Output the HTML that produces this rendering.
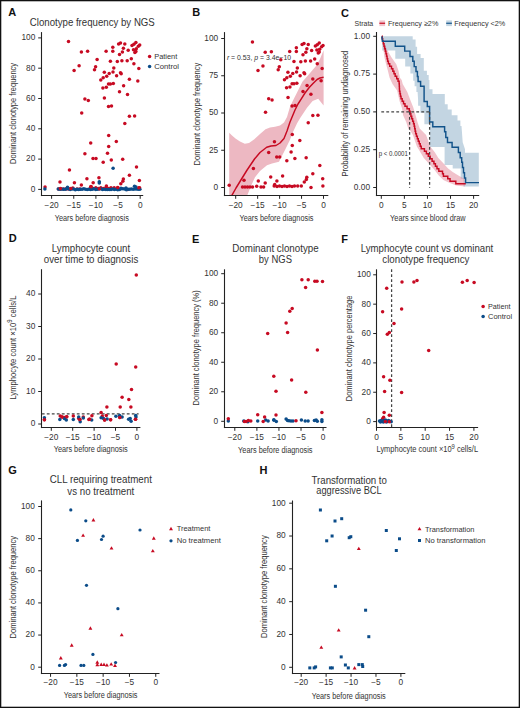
<!DOCTYPE html>
<html><head><meta charset="utf-8"><style>
html,body{margin:0;padding:0;background:#fff;}
svg{display:block;font-family:"Liberation Sans",sans-serif;}
</style></head><body>
<svg width="520" height="708" viewBox="0 0 520 708">
<rect x="0" y="0" width="520" height="708" fill="#fff"/>
<text x="8.3" y="15.7" font-size="11" fill="#111" font-weight="bold">A</text>
<text x="29.8" y="26" font-size="10.4" fill="#333333" textLength="125" lengthAdjust="spacingAndGlyphs">Clonotype frequency by NGS</text>
<line x1="41.5" y1="32.1" x2="41.5" y2="196.05" stroke="#222222" stroke-width="1.1"/>
<line x1="40.95" y1="195.5" x2="143.2" y2="195.5" stroke="#222222" stroke-width="1.1"/>
<line x1="38.2" y1="189.4" x2="41.5" y2="189.4" stroke="#222222" stroke-width="1"/>
<text x="35.3" y="191.75" font-size="8.3" fill="#333333" text-anchor="end">0</text>
<line x1="38.2" y1="159.1" x2="41.5" y2="159.1" stroke="#222222" stroke-width="1"/>
<text x="35.3" y="161.45" font-size="8.3" fill="#333333" text-anchor="end">20</text>
<line x1="38.2" y1="128.8" x2="41.5" y2="128.8" stroke="#222222" stroke-width="1"/>
<text x="35.3" y="131.15" font-size="8.3" fill="#333333" text-anchor="end">40</text>
<line x1="38.2" y1="98.5" x2="41.5" y2="98.5" stroke="#222222" stroke-width="1"/>
<text x="35.3" y="100.85" font-size="8.3" fill="#333333" text-anchor="end">60</text>
<line x1="38.2" y1="68.2" x2="41.5" y2="68.2" stroke="#222222" stroke-width="1"/>
<text x="35.3" y="70.55" font-size="8.3" fill="#333333" text-anchor="end">80</text>
<line x1="38.2" y1="37.9" x2="41.5" y2="37.9" stroke="#222222" stroke-width="1"/>
<text x="35.3" y="40.25" font-size="8.3" fill="#333333" text-anchor="end">100</text>
<line x1="51.6" y1="195.5" x2="51.6" y2="198.8" stroke="#222222" stroke-width="1"/>
<text x="51.6" y="207.8" font-size="8.3" fill="#333333" text-anchor="middle">−20</text>
<line x1="73.75" y1="195.5" x2="73.75" y2="198.8" stroke="#222222" stroke-width="1"/>
<text x="73.75" y="207.8" font-size="8.3" fill="#333333" text-anchor="middle">−15</text>
<line x1="95.9" y1="195.5" x2="95.9" y2="198.8" stroke="#222222" stroke-width="1"/>
<text x="95.9" y="207.8" font-size="8.3" fill="#333333" text-anchor="middle">−10</text>
<line x1="118.05" y1="195.5" x2="118.05" y2="198.8" stroke="#222222" stroke-width="1"/>
<text x="118.05" y="207.8" font-size="8.3" fill="#333333" text-anchor="middle">−5</text>
<line x1="140.2" y1="195.5" x2="140.2" y2="198.8" stroke="#222222" stroke-width="1"/>
<text x="140.2" y="207.8" font-size="8.3" fill="#333333" text-anchor="middle">0</text>
<text transform="translate(15.9,113.4) rotate(-90)" x="0" y="0" font-size="9.2" fill="#333333" text-anchor="middle" textLength="101" lengthAdjust="spacingAndGlyphs">Dominant clonotype frequency</text>
<text x="54.8" y="220.8" font-size="9.2" fill="#333333" textLength="74" lengthAdjust="spacingAndGlyphs">Years before diagnosis</text>
<g fill="#c70a22"><circle cx="68.5" cy="41.5" r="1.75"/><circle cx="81.4" cy="51.9" r="1.75"/><circle cx="87.6" cy="51.3" r="1.75"/><circle cx="97.1" cy="59.4" r="1.75"/><circle cx="79.1" cy="65.8" r="1.75"/><circle cx="74.1" cy="70.4" r="1.75"/><circle cx="95.6" cy="66.7" r="1.75"/><circle cx="94.5" cy="69.8" r="1.75"/><circle cx="118.6" cy="43.9" r="1.75"/><circle cx="120.5" cy="43" r="1.75"/><circle cx="124.8" cy="43.9" r="1.75"/><circle cx="132" cy="45.4" r="1.75"/><circle cx="133.9" cy="44.2" r="1.75"/><circle cx="135.9" cy="42.5" r="1.75"/><circle cx="139.7" cy="44.9" r="1.75"/><circle cx="138.3" cy="46.3" r="1.75"/><circle cx="112.8" cy="47.3" r="1.75"/><circle cx="123.4" cy="48.3" r="1.75"/><circle cx="106.1" cy="51.2" r="1.75"/><circle cx="112.8" cy="51.2" r="1.75"/><circle cx="128.2" cy="50.2" r="1.75"/><circle cx="133.5" cy="49.7" r="1.75"/><circle cx="136.3" cy="48.8" r="1.75"/><circle cx="122.4" cy="51.9" r="1.75"/><circle cx="134.9" cy="52.6" r="1.75"/><circle cx="135.9" cy="51.6" r="1.75"/><circle cx="119.5" cy="54.5" r="1.75"/><circle cx="110.4" cy="61.3" r="1.75"/><circle cx="117.3" cy="61.5" r="1.75"/><circle cx="121.9" cy="60.8" r="1.75"/><circle cx="127.2" cy="60.8" r="1.75"/><circle cx="131.3" cy="58.7" r="1.75"/><circle cx="133.9" cy="63.7" r="1.75"/><circle cx="113.8" cy="68" r="1.75"/><circle cx="138.8" cy="68.5" r="1.75"/><circle cx="104.3" cy="72.2" r="1.75"/><circle cx="109.2" cy="73.5" r="1.75"/><circle cx="113" cy="71.9" r="1.75"/><circle cx="120.5" cy="72.7" r="1.75"/><circle cx="121.2" cy="73.8" r="1.75"/><circle cx="116.6" cy="75.8" r="1.75"/><circle cx="106.7" cy="76.3" r="1.75"/><circle cx="103.2" cy="77.7" r="1.75"/><circle cx="100.8" cy="79.9" r="1.75"/><circle cx="129.4" cy="79.2" r="1.75"/><circle cx="137.8" cy="80.9" r="1.75"/><circle cx="108.5" cy="84" r="1.75"/><circle cx="110.4" cy="84" r="1.75"/><circle cx="113.3" cy="83.5" r="1.75"/><circle cx="106.3" cy="87.3" r="1.75"/><circle cx="102.9" cy="88.1" r="1.75"/><circle cx="123.6" cy="85.7" r="1.75"/><circle cx="119.5" cy="91.7" r="1.75"/><circle cx="127.5" cy="94.6" r="1.75"/><circle cx="104.4" cy="97.9" r="1.75"/><circle cx="84.9" cy="99.1" r="1.75"/><circle cx="88.3" cy="100.4" r="1.75"/><circle cx="81.7" cy="112.9" r="1.75"/><circle cx="108.5" cy="106.5" r="1.75"/><circle cx="111.5" cy="106" r="1.75"/><circle cx="129.4" cy="116.3" r="1.75"/><circle cx="134.6" cy="115.9" r="1.75"/><circle cx="124.8" cy="123.6" r="1.75"/><circle cx="108.7" cy="135.4" r="1.75"/><circle cx="116.3" cy="141.5" r="1.75"/><circle cx="108.7" cy="146.6" r="1.75"/><circle cx="90.7" cy="142.9" r="1.75"/><circle cx="84.9" cy="153.8" r="1.75"/><circle cx="93" cy="158.4" r="1.75"/><circle cx="96" cy="158.4" r="1.75"/><circle cx="107.5" cy="153.2" r="1.75"/><circle cx="103.2" cy="162.3" r="1.75"/><circle cx="111.3" cy="159.9" r="1.75"/><circle cx="122.7" cy="159.2" r="1.75"/><circle cx="136.5" cy="167.1" r="1.75"/><circle cx="45.04" cy="187.06" r="1.75"/><circle cx="69.46" cy="170.08" r="1.75"/><circle cx="59.98" cy="182.08" r="1.75"/><circle cx="74.41" cy="182.79" r="1.75"/><circle cx="81.37" cy="184.93" r="1.75"/><circle cx="86.92" cy="178.83" r="1.75"/><circle cx="93.18" cy="182.79" r="1.75"/><circle cx="58.46" cy="188.89" r="1.75"/><circle cx="60.98" cy="188.89" r="1.75"/><circle cx="63.51" cy="188.89" r="1.75"/><circle cx="66.03" cy="188.89" r="1.75"/><circle cx="68.55" cy="188.89" r="1.75"/><circle cx="72.79" cy="188.08" r="1.75"/><circle cx="77.13" cy="188.89" r="1.75"/><circle cx="79.75" cy="188.89" r="1.75"/><circle cx="90.96" cy="186.45" r="1.75"/><circle cx="98.93" cy="177.81" r="1.75"/><circle cx="90.45" cy="187.87" r="1.75"/><circle cx="93.28" cy="188.38" r="1.75"/><circle cx="95.8" cy="187.87" r="1.75"/><circle cx="98.32" cy="188.38" r="1.75"/><circle cx="100.84" cy="187.87" r="1.75"/><circle cx="103.37" cy="188.38" r="1.75"/><circle cx="105.89" cy="187.87" r="1.75"/><circle cx="108.41" cy="188.38" r="1.75"/><circle cx="110.94" cy="187.87" r="1.75"/><circle cx="114.16" cy="187.87" r="1.75"/><circle cx="117.8" cy="187.87" r="1.75"/><circle cx="120.83" cy="183.71" r="1.75"/><circle cx="129.4" cy="175.37" r="1.75"/><circle cx="123.35" cy="178.93" r="1.75"/><circle cx="122.84" cy="181.37" r="1.75"/><circle cx="127.59" cy="189.4" r="1.75"/><circle cx="139.39" cy="180.45" r="1.75"/><circle cx="139.59" cy="187.77" r="1.75"/></g>
<g fill="#0b4c89"><circle cx="44.9" cy="189" r="1.75"/><circle cx="113.1" cy="168.3" r="1.75"/><circle cx="99.3" cy="181.7" r="1.75"/><circle cx="99.3" cy="183.1" r="1.75"/><circle cx="58.3" cy="188.94" r="1.75"/><circle cx="60" cy="189.24" r="1.75"/><circle cx="61.7" cy="189.07" r="1.75"/><circle cx="63.4" cy="189.3" r="1.75"/><circle cx="65.1" cy="189.33" r="1.75"/><circle cx="66.8" cy="188.77" r="1.75"/><circle cx="68.5" cy="188.71" r="1.75"/><circle cx="70.2" cy="189.54" r="1.75"/><circle cx="71.9" cy="188.96" r="1.75"/><circle cx="73.6" cy="188.93" r="1.75"/><circle cx="75.3" cy="189.7" r="1.75"/><circle cx="77" cy="189.17" r="1.75"/><circle cx="78.7" cy="189.54" r="1.75"/><circle cx="80.4" cy="189.18" r="1.75"/><circle cx="82.1" cy="189.34" r="1.75"/><circle cx="83.8" cy="188.85" r="1.75"/><circle cx="85.5" cy="189.33" r="1.75"/><circle cx="87.2" cy="189.57" r="1.75"/><circle cx="88.9" cy="189.22" r="1.75"/><circle cx="90.6" cy="189.44" r="1.75"/><circle cx="92.3" cy="189.37" r="1.75"/><circle cx="94" cy="188.76" r="1.75"/><circle cx="95.7" cy="189.46" r="1.75"/><circle cx="97.4" cy="189.29" r="1.75"/><circle cx="99.1" cy="189" r="1.75"/><circle cx="100.8" cy="188.73" r="1.75"/><circle cx="102.5" cy="189.57" r="1.75"/><circle cx="104.2" cy="189.17" r="1.75"/><circle cx="105.9" cy="189.42" r="1.75"/><circle cx="107.6" cy="189.58" r="1.75"/><circle cx="109.3" cy="189.41" r="1.75"/><circle cx="111" cy="189.62" r="1.75"/><circle cx="112.7" cy="189.09" r="1.75"/><circle cx="114.4" cy="189.5" r="1.75"/><circle cx="116.1" cy="189.14" r="1.75"/><circle cx="117.8" cy="189.64" r="1.75"/><circle cx="119.5" cy="189.58" r="1.75"/><circle cx="121.2" cy="188.8" r="1.75"/><circle cx="122.9" cy="188.84" r="1.75"/><circle cx="124.6" cy="188.92" r="1.75"/><circle cx="126.3" cy="189.67" r="1.75"/><circle cx="128" cy="189.14" r="1.75"/><circle cx="129.7" cy="189.33" r="1.75"/><circle cx="131.4" cy="189" r="1.75"/><circle cx="133.1" cy="189.21" r="1.75"/><circle cx="134.8" cy="189.09" r="1.75"/><circle cx="136.5" cy="189.05" r="1.75"/><circle cx="138.2" cy="189.29" r="1.75"/><circle cx="139.9" cy="189.28" r="1.75"/><circle cx="67.5" cy="187.2" r="1.75"/><circle cx="134.5" cy="186.2" r="1.75"/><circle cx="136" cy="186.9" r="1.75"/><circle cx="121" cy="188.2" r="1.75"/><circle cx="126" cy="188" r="1.75"/></g>
<g fill="#c70a22"><circle cx="60.4" cy="188.6" r="1.75"/><circle cx="99.3" cy="188.8" r="1.75"/><circle cx="106.4" cy="186" r="1.75"/><circle cx="117.7" cy="187.4" r="1.75"/><circle cx="138.9" cy="187.8" r="1.75"/><circle cx="91" cy="186.8" r="1.75"/><circle cx="70.8" cy="188.4" r="1.75"/></g>
<g fill="#c70a22"><circle cx="149.6" cy="56.6" r="1.75"/></g>
<g fill="#0b4c89"><circle cx="149.6" cy="66.5" r="1.75"/></g>
<text x="154.2" y="59.2" font-size="7.6" fill="#333333" textLength="23.1" lengthAdjust="spacingAndGlyphs">Patient</text>
<text x="154.2" y="69" font-size="7.6" fill="#333333" textLength="24.8" lengthAdjust="spacingAndGlyphs">Control</text>
<text x="192.2" y="15.9" font-size="11" fill="#111" font-weight="bold">B</text>
<polygon points="229.2,132.7 232,135.5 235.5,138.4 240,141.5 244.8,143.8 249,143 254,139.6 260,134 265.5,129.2 270,127.5 275,126.8 280,125.5 284,122.5 287,117 290,106.7 293.5,99.5 296.8,93.1 302.4,81.8 309.2,73.9 316,66 320,59 323.6,50.2 323.6,105.5 318.2,98.8 312.6,101 307,107.8 300.2,118 297.1,123.2 293,132 289.9,140 285,150 279,161.7 272,163.5 267,165.3 260,171 255,177.3 251,186 247.3,195.3 229.2,195.3" fill="#edb8c2"/>
<polyline points="231.9,195.3 236,188 240,181.5 247.1,170 254.5,159 260,152.5 266.7,147.3 271,146 276,145.5 280,143 284,138.4 287,131 290,122 292.5,116 295,110 298,104 301.3,98.8 305,93 309.2,87.5 313,83.5 317.1,79.5 320,78 323.6,77.3" fill="none" stroke="#c70a22" stroke-width="1.45" stroke-linejoin="round"/>
<line x1="224.5" y1="32.1" x2="224.5" y2="196.05" stroke="#222222" stroke-width="1.1"/>
<line x1="223.95" y1="195.5" x2="328.3" y2="195.5" stroke="#222222" stroke-width="1.1"/>
<line x1="221.2" y1="187.5" x2="224.5" y2="187.5" stroke="#222222" stroke-width="1"/>
<text x="218.2" y="189.85" font-size="8.3" fill="#333333" text-anchor="end">0</text>
<line x1="221.2" y1="150.25" x2="224.5" y2="150.25" stroke="#222222" stroke-width="1"/>
<text x="218.2" y="152.6" font-size="8.3" fill="#333333" text-anchor="end">25</text>
<line x1="221.2" y1="113" x2="224.5" y2="113" stroke="#222222" stroke-width="1"/>
<text x="218.2" y="115.35" font-size="8.3" fill="#333333" text-anchor="end">50</text>
<line x1="221.2" y1="75.75" x2="224.5" y2="75.75" stroke="#222222" stroke-width="1"/>
<text x="218.2" y="78.1" font-size="8.3" fill="#333333" text-anchor="end">75</text>
<line x1="221.2" y1="38.5" x2="224.5" y2="38.5" stroke="#222222" stroke-width="1"/>
<text x="218.2" y="40.85" font-size="8.3" fill="#333333" text-anchor="end">100</text>
<line x1="235.7" y1="195.5" x2="235.7" y2="198.8" stroke="#222222" stroke-width="1"/>
<text x="235.7" y="207.8" font-size="8.3" fill="#333333" text-anchor="middle">−20</text>
<line x1="257.65" y1="195.5" x2="257.65" y2="198.8" stroke="#222222" stroke-width="1"/>
<text x="257.65" y="207.8" font-size="8.3" fill="#333333" text-anchor="middle">−15</text>
<line x1="279.6" y1="195.5" x2="279.6" y2="198.8" stroke="#222222" stroke-width="1"/>
<text x="279.6" y="207.8" font-size="8.3" fill="#333333" text-anchor="middle">−10</text>
<line x1="301.55" y1="195.5" x2="301.55" y2="198.8" stroke="#222222" stroke-width="1"/>
<text x="301.55" y="207.8" font-size="8.3" fill="#333333" text-anchor="middle">−5</text>
<line x1="323.5" y1="195.5" x2="323.5" y2="198.8" stroke="#222222" stroke-width="1"/>
<text x="323.5" y="207.8" font-size="8.3" fill="#333333" text-anchor="middle">0</text>
<text transform="translate(200.2,114) rotate(-90)" x="0" y="0" font-size="9.2" fill="#333333" text-anchor="middle" textLength="102.8" lengthAdjust="spacingAndGlyphs">Dominant clonotype frequency</text>
<text x="239.5" y="220.6" font-size="9.2" fill="#333333" textLength="73.9" lengthAdjust="spacingAndGlyphs">Years before diagnosis</text>
<g fill="#c70a22"><circle cx="252.45" cy="42.04" r="1.75"/><circle cx="265.23" cy="52.27" r="1.75"/><circle cx="271.37" cy="51.68" r="1.75"/><circle cx="280.79" cy="59.65" r="1.75"/><circle cx="262.95" cy="65.94" r="1.75"/><circle cx="258" cy="70.46" r="1.75"/><circle cx="279.3" cy="66.82" r="1.75"/><circle cx="278.21" cy="69.87" r="1.75"/><circle cx="302.1" cy="44.4" r="1.75"/><circle cx="303.98" cy="43.52" r="1.75"/><circle cx="308.24" cy="44.4" r="1.75"/><circle cx="315.37" cy="45.88" r="1.75"/><circle cx="317.26" cy="44.7" r="1.75"/><circle cx="319.24" cy="43.02" r="1.75"/><circle cx="323" cy="45.38" r="1.75"/><circle cx="321.62" cy="46.76" r="1.75"/><circle cx="296.35" cy="47.74" r="1.75"/><circle cx="306.85" cy="48.73" r="1.75"/><circle cx="289.71" cy="51.58" r="1.75"/><circle cx="296.35" cy="51.58" r="1.75"/><circle cx="311.61" cy="50.6" r="1.75"/><circle cx="316.86" cy="50.11" r="1.75"/><circle cx="319.64" cy="49.22" r="1.75"/><circle cx="305.86" cy="52.27" r="1.75"/><circle cx="318.25" cy="52.96" r="1.75"/><circle cx="319.24" cy="51.97" r="1.75"/><circle cx="302.99" cy="54.83" r="1.75"/><circle cx="293.97" cy="61.51" r="1.75"/><circle cx="300.81" cy="61.71" r="1.75"/><circle cx="305.37" cy="61.02" r="1.75"/><circle cx="310.62" cy="61.02" r="1.75"/><circle cx="314.68" cy="58.96" r="1.75"/><circle cx="317.26" cy="63.87" r="1.75"/><circle cx="297.34" cy="68.1" r="1.75"/><circle cx="322.11" cy="68.6" r="1.75"/><circle cx="287.92" cy="72.23" r="1.75"/><circle cx="292.78" cy="73.51" r="1.75"/><circle cx="296.55" cy="71.94" r="1.75"/><circle cx="303.98" cy="72.73" r="1.75"/><circle cx="304.67" cy="73.81" r="1.75"/><circle cx="300.11" cy="75.77" r="1.75"/><circle cx="290.3" cy="76.27" r="1.75"/><circle cx="286.83" cy="77.64" r="1.75"/><circle cx="284.46" cy="79.81" r="1.75"/><circle cx="312.8" cy="79.12" r="1.75"/><circle cx="321.12" cy="80.79" r="1.75"/><circle cx="292.09" cy="83.84" r="1.75"/><circle cx="293.97" cy="83.84" r="1.75"/><circle cx="296.84" cy="83.35" r="1.75"/><circle cx="289.91" cy="87.08" r="1.75"/><circle cx="286.54" cy="87.87" r="1.75"/><circle cx="307.05" cy="85.51" r="1.75"/><circle cx="302.99" cy="91.41" r="1.75"/><circle cx="310.91" cy="94.26" r="1.75"/><circle cx="288.02" cy="97.51" r="1.75"/><circle cx="268.7" cy="98.69" r="1.75"/><circle cx="272.07" cy="99.97" r="1.75"/><circle cx="265.53" cy="112.26" r="1.75"/><circle cx="292.09" cy="105.97" r="1.75"/><circle cx="295.06" cy="105.48" r="1.75"/><circle cx="312.8" cy="115.61" r="1.75"/><circle cx="317.95" cy="115.21" r="1.75"/><circle cx="308.24" cy="122.79" r="1.75"/><circle cx="292.28" cy="134.39" r="1.75"/><circle cx="299.82" cy="140.39" r="1.75"/><circle cx="292.28" cy="145.41" r="1.75"/><circle cx="274.45" cy="141.77" r="1.75"/><circle cx="268.7" cy="152.49" r="1.75"/><circle cx="276.73" cy="157.01" r="1.75"/><circle cx="279.7" cy="157.01" r="1.75"/><circle cx="291.1" cy="151.9" r="1.75"/><circle cx="286.83" cy="160.85" r="1.75"/><circle cx="294.86" cy="158.49" r="1.75"/><circle cx="306.16" cy="157.8" r="1.75"/><circle cx="319.83" cy="165.57" r="1.75"/><circle cx="229.2" cy="185.2" r="1.75"/><circle cx="253.4" cy="168.5" r="1.75"/><circle cx="244" cy="180.3" r="1.75"/><circle cx="258.3" cy="181" r="1.75"/><circle cx="265.2" cy="183.1" r="1.75"/><circle cx="270.7" cy="177.1" r="1.75"/><circle cx="276.9" cy="181" r="1.75"/><circle cx="242.5" cy="187" r="1.75"/><circle cx="245" cy="187" r="1.75"/><circle cx="247.5" cy="187" r="1.75"/><circle cx="250" cy="187" r="1.75"/><circle cx="252.5" cy="187" r="1.75"/><circle cx="256.7" cy="186.2" r="1.75"/><circle cx="261" cy="187" r="1.75"/><circle cx="263.6" cy="187" r="1.75"/><circle cx="274.7" cy="184.6" r="1.75"/><circle cx="282.6" cy="176.1" r="1.75"/><circle cx="274.2" cy="186" r="1.75"/><circle cx="277" cy="186.5" r="1.75"/><circle cx="279.5" cy="186" r="1.75"/><circle cx="282" cy="186.5" r="1.75"/><circle cx="284.5" cy="186" r="1.75"/><circle cx="287" cy="186.5" r="1.75"/><circle cx="289.5" cy="186" r="1.75"/><circle cx="292" cy="186.5" r="1.75"/><circle cx="294.5" cy="186" r="1.75"/><circle cx="297.7" cy="186" r="1.75"/><circle cx="301.3" cy="186" r="1.75"/><circle cx="304.3" cy="181.9" r="1.75"/><circle cx="312.8" cy="173.7" r="1.75"/><circle cx="306.8" cy="177.2" r="1.75"/><circle cx="306.3" cy="179.6" r="1.75"/><circle cx="311" cy="187.5" r="1.75"/><circle cx="322.7" cy="178.7" r="1.75"/><circle cx="322.9" cy="185.9" r="1.75"/></g>
<text x="226.9" y="59.9" font-size="6.6" fill="#333333" textLength="64.2" lengthAdjust="spacingAndGlyphs"><tspan font-style="italic">r</tspan> = 0.53, <tspan font-style="italic">p</tspan> = 3.4e−10</text>
<text x="341" y="16.6" font-size="11" fill="#111" font-weight="bold">C</text>
<text x="354.6" y="25.7" font-size="7.4" fill="#333333" textLength="18.6" lengthAdjust="spacingAndGlyphs">Strata</text>
<rect x="379.4" y="20.4" width="5.7" height="5.7" fill="#f0c4cc"/>
<line x1="379.4" y1="23.25" x2="385.1" y2="23.25" stroke="#c70a22" stroke-width="1.2"/>
<text x="387.9" y="25.7" font-size="7.4" fill="#333333" textLength="50.4" lengthAdjust="spacingAndGlyphs">Frequency ≥2%</text>
<rect x="446.2" y="20.4" width="5.7" height="5.7" fill="#c3d5e2"/>
<line x1="446.2" y1="23.25" x2="451.9" y2="23.25" stroke="#12538a" stroke-width="1.2"/>
<text x="454.2" y="25.7" font-size="7.4" fill="#333333" textLength="51.1" lengthAdjust="spacingAndGlyphs">Frequency &lt;2%</text>
<polygon points="382.2,36.3 412.7,36.3 412.7,39.6 415.6,39.6 415.6,46.8 417.1,46.8 417.1,53.9 420.6,53.9 420.6,58.1 423.8,58.1 423.8,70.8 426.9,70.8 426.9,75.1 428.7,75.1 428.7,80 429.4,80 429.4,89.2 432.5,89.2 432.5,94.1 444.8,94.1 444.8,104.2 447.7,104.2 447.7,109.4 451.7,109.4 451.7,115.2 457.5,115.2 457.5,120.4 460.4,120.4 460.4,126.1 461.5,126.1 462.7,142.3 465,149.2 465,152.7 478.8,152.7 478.8,186.4 463.5,186.4 463.5,178.8 460.7,178.8 460.7,168.4 452.7,168.4 452.7,165 444.6,165 444.6,147 430,147 430,124.2 424.4,124.2 424.4,112.7 420.4,112.7 420.4,105.8 418.1,105.8 418.1,100 417.6,92 416.4,92 416.4,86.3 414.6,86.3 414.6,80.7 413.2,80.7 413.2,73.6 410.4,73.6 410.4,66.6 405.2,66.6 405.2,58.7 395.3,58.7 395.3,50.6 382.2,50.6" fill="#c3d5e2"/>
<polygon points="382,37 383.5,42 387.5,50.6 391.4,57.3 396.3,64.3 398.5,70.7 399.9,77.8 401.7,80 402.7,84 407.3,92 410.2,99.8 413.3,107.5 415,113.2 417.5,122.3 419.7,128.5 426.1,135 430.2,146.5 434.8,152.3 438.3,158 442.9,162.7 448.1,168.4 452.7,171.9 458.4,175.4 464.2,178.8 465,186.6 456.1,185.6 448.1,182.3 443.4,180 438.8,175.4 434.2,169.6 429,163.8 423.8,158.1 420.4,152.3 416.9,146.5 412.9,135 410.5,131 408.4,129 406.3,122.3 403.1,115.3 402,108.2 399.6,101.2 397.1,90.6 392.5,84 389.6,77.8 387.9,70.7 386.1,64.3 384.4,57.3 382.7,44.6 382.2,40" fill="#e1788c" fill-opacity="0.45"/>
<polyline points="381.8,36.3 382.24,36.3 382.24,38.8 382.68,38.8 382.68,41.3 383.34,41.3 383.34,43.8 384.01,43.8 384.01,46.3 384.68,46.3 384.68,48.8 385.32,48.8 385.32,51.3 385.95,51.3 385.95,53.8 386.56,53.8 386.56,56.3 387.1,56.3 387.1,58.8 387.64,58.8 387.64,61.3 388.4,61.3 388.4,63.8 389.71,63.8 389.71,66.3 391.5,66.3 391.5,68.8 392.84,68.8 392.84,71.3 394.01,71.3 394.01,73.8 395.17,73.8 395.17,76.3 396.7,76.3 396.7,78.8 398.05,78.8 398.05,81.3 399.12,81.3 399.12,83.8 399.29,83.8 399.29,86.3 399.4,86.3 399.4,88.8 399.5,88.8 399.5,91.3 399.96,91.3 399.96,93.8 400.43,93.8 400.43,96.3 401.03,96.3 401.03,98.8 402.2,98.8 402.2,101.3 403.53,101.3 403.53,103.8 404.98,103.8 404.98,106.3 407.07,106.3 407.07,108.8 409.31,108.8 409.31,111.3 410.15,111.3 410.15,113.8 410.88,113.8 410.88,116.3 411.75,116.3 411.75,118.8 412.64,118.8 412.64,121.3 413.52,121.3 413.52,123.8 414.21,123.8 414.21,126.3 414.69,126.3 414.69,128.8 415.17,128.8 415.17,131.3 415.65,131.3 415.65,133.8 416.43,133.8 416.43,136.3 417.34,136.3 417.34,138.8 418.26,138.8 418.26,141.3 419.25,141.3 419.25,143.8 420.23,143.8 420.23,146.3 421.22,146.3 421.22,148.8 424.43,148.8 424.43,151.3 426.39,151.3 426.39,153.8 428.28,153.8 428.28,156.3 430.2,156.3 430.2,158.8 432.1,158.8 432.1,161.3 433.94,161.3 433.94,163.8 435.43,163.8 435.43,166.3 437.01,166.3 437.01,168.8 438.82,168.8 438.82,171.3 442.52,171.3 442.52,173.8 443.42,173.8 443.42,176.3 447.76,176.3 447.76,178.8 450.03,178.8 450.03,181.3 455.81,181.3 455.81,183.8 465.8,183.8" fill="none" stroke="#c70a22" stroke-width="1.45" stroke-linejoin="miter"/>
<polyline points="381.8,36.3 382.4,41.3 395.3,41.3 395.3,46.2 404.7,46.2 404.7,51.1 410,51.1 410,56.4 412.8,56.4 412.8,61.3 414.2,61.3 414.2,66.6 416,66.6 416,71.5 417.4,71.5 417.4,76.5 418.1,76.5 418.1,81.4 420.6,81.4 420.6,86.3 424.1,86.3 424.1,101.5 427.3,101.5 427.3,106.5 429.6,106.5 429.6,121.9 432.8,121.9 432.8,126.8 444.6,126.8 444.6,131.7 445.8,131.7 445.8,137.5 447.5,137.5 447.5,142.5 452.1,142.5 452.1,147.3 458.4,147.3 458.4,152.5 460.2,152.5 460.2,157.7 461.7,157.7 461.7,162.3 462.5,162.3 462.5,167.5 463.5,167.5 463.5,172.7 464.5,172.7 464.5,177.9 465.6,177.9 465.6,182.6 479,182.6" fill="none" stroke="#12538a" stroke-width="1.45" stroke-linejoin="miter"/>
<line x1="381.3" y1="111.9" x2="429.6" y2="111.9" stroke="#444" stroke-width="1.25" stroke-dasharray="2.8,2.2"/>
<line x1="409.6" y1="111.9" x2="409.6" y2="187.8" stroke="#444" stroke-width="1.25" stroke-dasharray="2.8,2.2"/>
<line x1="429.6" y1="111.9" x2="429.6" y2="187.8" stroke="#444" stroke-width="1.25" stroke-dasharray="2.8,2.2"/>
<text x="378.7" y="156.3" font-size="6.6" fill="#333333" textLength="29.2" lengthAdjust="spacingAndGlyphs">p &lt; 0.0001</text>
<line x1="376.5" y1="32" x2="376.5" y2="196.05" stroke="#222222" stroke-width="1.1"/>
<line x1="375.95" y1="195.5" x2="479.2" y2="195.5" stroke="#222222" stroke-width="1.1"/>
<line x1="373.2" y1="187.5" x2="376.5" y2="187.5" stroke="#222222" stroke-width="1"/>
<text x="370" y="189.85" font-size="8.3" fill="#333333" text-anchor="end">0.00</text>
<line x1="373.2" y1="149.7" x2="376.5" y2="149.7" stroke="#222222" stroke-width="1"/>
<text x="370" y="152.05" font-size="8.3" fill="#333333" text-anchor="end">0.25</text>
<line x1="373.2" y1="111.9" x2="376.5" y2="111.9" stroke="#222222" stroke-width="1"/>
<text x="370" y="114.25" font-size="8.3" fill="#333333" text-anchor="end">0.50</text>
<line x1="373.2" y1="74.1" x2="376.5" y2="74.1" stroke="#222222" stroke-width="1"/>
<text x="370" y="76.45" font-size="8.3" fill="#333333" text-anchor="end">0.75</text>
<line x1="373.2" y1="36.3" x2="376.5" y2="36.3" stroke="#222222" stroke-width="1"/>
<text x="370" y="38.65" font-size="8.3" fill="#333333" text-anchor="end">1.00</text>
<line x1="381.3" y1="195.5" x2="381.3" y2="198.8" stroke="#222222" stroke-width="1"/>
<text x="381.3" y="207.6" font-size="8.3" fill="#333333" text-anchor="middle">0</text>
<line x1="404.38" y1="195.5" x2="404.38" y2="198.8" stroke="#222222" stroke-width="1"/>
<text x="404.38" y="207.6" font-size="8.3" fill="#333333" text-anchor="middle">5</text>
<line x1="427.45" y1="195.5" x2="427.45" y2="198.8" stroke="#222222" stroke-width="1"/>
<text x="427.45" y="207.6" font-size="8.3" fill="#333333" text-anchor="middle">10</text>
<line x1="450.53" y1="195.5" x2="450.53" y2="198.8" stroke="#222222" stroke-width="1"/>
<text x="450.53" y="207.6" font-size="8.3" fill="#333333" text-anchor="middle">15</text>
<line x1="473.6" y1="195.5" x2="473.6" y2="198.8" stroke="#222222" stroke-width="1"/>
<text x="473.6" y="207.6" font-size="8.3" fill="#333333" text-anchor="middle">20</text>
<text transform="translate(347.6,113.7) rotate(-90)" x="0" y="0" font-size="9.2" fill="#333333" text-anchor="middle" textLength="125.8" lengthAdjust="spacingAndGlyphs">Probability of remaining undiagnosed</text>
<text x="390.1" y="220.5" font-size="9.2" fill="#333333" textLength="75.5" lengthAdjust="spacingAndGlyphs">Years since blood draw</text>
<text x="8.7" y="242.4" font-size="11" fill="#111" font-weight="bold">D</text>
<text x="91" y="252.2" font-size="10.4" fill="#333333" textLength="78.3" lengthAdjust="spacingAndGlyphs" text-anchor="middle">Lymphocyte count</text>
<text x="91" y="263.1" font-size="10.4" fill="#333333" textLength="94.5" lengthAdjust="spacingAndGlyphs" text-anchor="middle">over time to diagnosis</text>
<line x1="41.5" y1="269.2" x2="41.5" y2="428.05" stroke="#222222" stroke-width="1.1"/>
<line x1="40.95" y1="427.5" x2="140.4" y2="427.5" stroke="#222222" stroke-width="1.1"/>
<line x1="38.2" y1="424" x2="41.5" y2="424" stroke="#222222" stroke-width="1"/>
<text x="35.3" y="426.35" font-size="8.3" fill="#333333" text-anchor="end">0</text>
<line x1="38.2" y1="391.5" x2="41.5" y2="391.5" stroke="#222222" stroke-width="1"/>
<text x="35.3" y="393.85" font-size="8.3" fill="#333333" text-anchor="end">10</text>
<line x1="38.2" y1="359" x2="41.5" y2="359" stroke="#222222" stroke-width="1"/>
<text x="35.3" y="361.35" font-size="8.3" fill="#333333" text-anchor="end">20</text>
<line x1="38.2" y1="326.5" x2="41.5" y2="326.5" stroke="#222222" stroke-width="1"/>
<text x="35.3" y="328.85" font-size="8.3" fill="#333333" text-anchor="end">30</text>
<line x1="38.2" y1="294" x2="41.5" y2="294" stroke="#222222" stroke-width="1"/>
<text x="35.3" y="296.35" font-size="8.3" fill="#333333" text-anchor="end">40</text>
<line x1="51.3" y1="427.5" x2="51.3" y2="430.8" stroke="#222222" stroke-width="1"/>
<text x="51.3" y="439.8" font-size="8.3" fill="#333333" text-anchor="middle">−20</text>
<line x1="72.7" y1="427.5" x2="72.7" y2="430.8" stroke="#222222" stroke-width="1"/>
<text x="72.7" y="439.8" font-size="8.3" fill="#333333" text-anchor="middle">−15</text>
<line x1="94.1" y1="427.5" x2="94.1" y2="430.8" stroke="#222222" stroke-width="1"/>
<text x="94.1" y="439.8" font-size="8.3" fill="#333333" text-anchor="middle">−10</text>
<line x1="115.5" y1="427.5" x2="115.5" y2="430.8" stroke="#222222" stroke-width="1"/>
<text x="115.5" y="439.8" font-size="8.3" fill="#333333" text-anchor="middle">−5</text>
<line x1="136.9" y1="427.5" x2="136.9" y2="430.8" stroke="#222222" stroke-width="1"/>
<text x="136.9" y="439.8" font-size="8.3" fill="#333333" text-anchor="middle">0</text>
<text transform="translate(16,347.6) rotate(-90)" x="0" y="0" font-size="9.2" fill="#333333" text-anchor="middle" textLength="104" lengthAdjust="spacingAndGlyphs">Lymphocyte count ×10<tspan dy="-3.6" font-size="7.2">9</tspan><tspan dy="3.6"> cells/L</tspan></text>
<text x="53.7" y="452.4" font-size="9.2" fill="#333333" textLength="74" lengthAdjust="spacingAndGlyphs">Years before diagnosis</text>
<line x1="41.8" y1="413.8" x2="138.6" y2="413.8" stroke="#444" stroke-width="1.3" stroke-dasharray="2.8,2.2"/>
<g fill="#c70a22"><circle cx="44.4" cy="419.8" r="1.75"/><circle cx="60.2" cy="416" r="1.75"/><circle cx="62.1" cy="417.1" r="1.75"/><circle cx="64.6" cy="417.5" r="1.75"/><circle cx="66.7" cy="416.8" r="1.75"/><circle cx="73.3" cy="416" r="1.75"/><circle cx="78.7" cy="418.6" r="1.75"/><circle cx="79.8" cy="419.4" r="1.75"/><circle cx="83.3" cy="417.1" r="1.75"/><circle cx="88.8" cy="419.4" r="1.75"/><circle cx="89.6" cy="419.2" r="1.75"/><circle cx="91.9" cy="415.8" r="1.75"/><circle cx="101.1" cy="412.5" r="1.75"/><circle cx="102.3" cy="416" r="1.75"/><circle cx="106.3" cy="415.5" r="1.75"/><circle cx="104.6" cy="420.1" r="1.75"/><circle cx="110.6" cy="419.8" r="1.75"/><circle cx="119.8" cy="417.5" r="1.75"/><circle cx="135.5" cy="419.2" r="1.75"/><circle cx="106.9" cy="407.1" r="1.75"/><circle cx="120.2" cy="407.1" r="1.75"/><circle cx="130.9" cy="407.1" r="1.75"/><circle cx="122.1" cy="397.3" r="1.75"/><circle cx="128.8" cy="399.4" r="1.75"/><circle cx="136.3" cy="274.9" r="1.75"/><circle cx="116.2" cy="363.9" r="1.75"/><circle cx="135.7" cy="367.1" r="1.75"/><circle cx="131.5" cy="389.6" r="1.75"/></g>
<g fill="#0b4c89"><circle cx="44.4" cy="417.7" r="1.75"/><circle cx="59.8" cy="419.4" r="1.75"/><circle cx="64.4" cy="418.6" r="1.75"/><circle cx="66.3" cy="420" r="1.75"/><circle cx="73.3" cy="419.4" r="1.75"/><circle cx="78.7" cy="417.1" r="1.75"/><circle cx="80.2" cy="421.7" r="1.75"/><circle cx="83.3" cy="417.9" r="1.75"/><circle cx="91.7" cy="420.1" r="1.75"/><circle cx="101.1" cy="417.8" r="1.75"/><circle cx="103.5" cy="418.6" r="1.75"/><circle cx="107.1" cy="419" r="1.75"/><circle cx="115.9" cy="416.3" r="1.75"/><circle cx="119.6" cy="415.5" r="1.75"/><circle cx="122.1" cy="417.1" r="1.75"/><circle cx="128.6" cy="419.2" r="1.75"/><circle cx="130.2" cy="418.6" r="1.75"/><circle cx="131.1" cy="421.3" r="1.75"/><circle cx="135.7" cy="415.5" r="1.75"/><circle cx="136" cy="417.1" r="1.75"/></g>
<g fill="#c70a22"><circle cx="44.4" cy="419.8" r="1.75"/><circle cx="62.1" cy="417.1" r="1.75"/><circle cx="66.7" cy="416.8" r="1.75"/><circle cx="79.8" cy="419.4" r="1.75"/><circle cx="89.6" cy="419.2" r="1.75"/><circle cx="104.6" cy="420.1" r="1.75"/><circle cx="110.6" cy="419.8" r="1.75"/><circle cx="119.8" cy="417.5" r="1.75"/><circle cx="135.5" cy="419.2" r="1.75"/></g>
<text x="192.1" y="242.6" font-size="11" fill="#111" font-weight="bold">E</text>
<text x="275.5" y="252.3" font-size="10.4" fill="#333333" textLength="86.5" lengthAdjust="spacingAndGlyphs" text-anchor="middle">Dominant clonotype</text>
<text x="275.4" y="263.1" font-size="10.4" fill="#333333" textLength="33.1" lengthAdjust="spacingAndGlyphs" text-anchor="middle">by NGS</text>
<line x1="224.5" y1="269.3" x2="224.5" y2="428.05" stroke="#222222" stroke-width="1.1"/>
<line x1="223.95" y1="427.5" x2="326.5" y2="427.5" stroke="#222222" stroke-width="1.1"/>
<line x1="221.2" y1="421.3" x2="224.5" y2="421.3" stroke="#222222" stroke-width="1"/>
<text x="218.2" y="423.65" font-size="8.3" fill="#333333" text-anchor="end">0</text>
<line x1="221.2" y1="391.78" x2="224.5" y2="391.78" stroke="#222222" stroke-width="1"/>
<text x="218.2" y="394.13" font-size="8.3" fill="#333333" text-anchor="end">20</text>
<line x1="221.2" y1="362.26" x2="224.5" y2="362.26" stroke="#222222" stroke-width="1"/>
<text x="218.2" y="364.61" font-size="8.3" fill="#333333" text-anchor="end">40</text>
<line x1="221.2" y1="332.74" x2="224.5" y2="332.74" stroke="#222222" stroke-width="1"/>
<text x="218.2" y="335.09" font-size="8.3" fill="#333333" text-anchor="end">60</text>
<line x1="221.2" y1="303.22" x2="224.5" y2="303.22" stroke="#222222" stroke-width="1"/>
<text x="218.2" y="305.57" font-size="8.3" fill="#333333" text-anchor="end">80</text>
<line x1="221.2" y1="273.7" x2="224.5" y2="273.7" stroke="#222222" stroke-width="1"/>
<text x="218.2" y="276.05" font-size="8.3" fill="#333333" text-anchor="end">100</text>
<line x1="234.8" y1="427.5" x2="234.8" y2="430.8" stroke="#222222" stroke-width="1"/>
<text x="234.8" y="440.2" font-size="8.3" fill="#333333" text-anchor="middle">−20</text>
<line x1="256.88" y1="427.5" x2="256.88" y2="430.8" stroke="#222222" stroke-width="1"/>
<text x="256.88" y="440.2" font-size="8.3" fill="#333333" text-anchor="middle">−15</text>
<line x1="278.95" y1="427.5" x2="278.95" y2="430.8" stroke="#222222" stroke-width="1"/>
<text x="278.95" y="440.2" font-size="8.3" fill="#333333" text-anchor="middle">−10</text>
<line x1="301.03" y1="427.5" x2="301.03" y2="430.8" stroke="#222222" stroke-width="1"/>
<text x="301.03" y="440.2" font-size="8.3" fill="#333333" text-anchor="middle">−5</text>
<line x1="323.1" y1="427.5" x2="323.1" y2="430.8" stroke="#222222" stroke-width="1"/>
<text x="323.1" y="440.2" font-size="8.3" fill="#333333" text-anchor="middle">0</text>
<text transform="translate(198.8,347.8) rotate(-90)" x="0" y="0" font-size="9.2" fill="#333333" text-anchor="middle" textLength="115.2" lengthAdjust="spacingAndGlyphs">Dominant clonotype frequency (%)</text>
<text x="238.1" y="452.8" font-size="9.2" fill="#333333" textLength="74.4" lengthAdjust="spacingAndGlyphs">Years before diagnosis</text>
<g fill="#0b4c89"><circle cx="228.3" cy="421.1" r="1.75"/><circle cx="243.8" cy="421" r="1.75"/><circle cx="247.9" cy="421.7" r="1.75"/><circle cx="257.7" cy="421.1" r="1.75"/><circle cx="265.7" cy="420" r="1.75"/><circle cx="268.1" cy="420.9" r="1.75"/><circle cx="273.8" cy="419.8" r="1.75"/><circle cx="274" cy="420.2" r="1.75"/><circle cx="276.3" cy="421.5" r="1.75"/><circle cx="286.1" cy="419" r="1.75"/><circle cx="287.5" cy="420.5" r="1.75"/><circle cx="289" cy="420.8" r="1.75"/><circle cx="291" cy="421" r="1.75"/><circle cx="293" cy="421" r="1.75"/><circle cx="301.4" cy="420" r="1.75"/><circle cx="305.2" cy="421" r="1.75"/><circle cx="308.1" cy="421" r="1.75"/><circle cx="314.4" cy="420.5" r="1.75"/><circle cx="316.1" cy="420" r="1.75"/><circle cx="317.3" cy="421.3" r="1.75"/><circle cx="321.9" cy="421.5" r="1.75"/><circle cx="321.9" cy="419.8" r="1.75"/></g>
<g fill="#c70a22"><circle cx="228.3" cy="418.8" r="1.75"/><circle cx="244.4" cy="421.4" r="1.75"/><circle cx="246.1" cy="421.4" r="1.75"/><circle cx="248.4" cy="420.6" r="1.75"/><circle cx="250.8" cy="421.1" r="1.75"/><circle cx="257.7" cy="414.8" r="1.75"/><circle cx="264.6" cy="417.1" r="1.75"/><circle cx="263.2" cy="421.4" r="1.75"/><circle cx="276" cy="391.3" r="1.75"/><circle cx="305.8" cy="392.2" r="1.75"/><circle cx="276" cy="415" r="1.75"/><circle cx="321.9" cy="412.5" r="1.75"/><circle cx="296" cy="420.8" r="1.75"/><circle cx="301.9" cy="279.7" r="1.75"/><circle cx="308.2" cy="279.7" r="1.75"/><circle cx="314.8" cy="281.2" r="1.75"/><circle cx="317" cy="281.2" r="1.75"/><circle cx="322.5" cy="281.5" r="1.75"/><circle cx="305.6" cy="287.4" r="1.75"/><circle cx="292.2" cy="308.6" r="1.75"/><circle cx="289.8" cy="311.3" r="1.75"/><circle cx="286.1" cy="322.9" r="1.75"/><circle cx="267.7" cy="333.6" r="1.75"/><circle cx="287.6" cy="332.6" r="1.75"/><circle cx="317.4" cy="350" r="1.75"/><circle cx="273.8" cy="376.2" r="1.75"/><circle cx="291.6" cy="379.9" r="1.75"/></g>
<text x="341.2" y="242.6" font-size="11" fill="#111" font-weight="bold">F</text>
<text x="427" y="252.4" font-size="10.4" fill="#333333" textLength="132.5" lengthAdjust="spacingAndGlyphs" text-anchor="middle">Lymphocyte count vs dominant</text>
<text x="425.9" y="263" font-size="10.4" fill="#333333" textLength="87.1" lengthAdjust="spacingAndGlyphs" text-anchor="middle">clonotype frequency</text>
<line x1="376.5" y1="269.3" x2="376.5" y2="428.05" stroke="#222222" stroke-width="1.1"/>
<line x1="375.95" y1="427.5" x2="478.1" y2="427.5" stroke="#222222" stroke-width="1.1"/>
<line x1="373.2" y1="421.6" x2="376.5" y2="421.6" stroke="#222222" stroke-width="1"/>
<text x="370.8" y="423.95" font-size="8.3" fill="#333333" text-anchor="end">0</text>
<line x1="373.2" y1="392.24" x2="376.5" y2="392.24" stroke="#222222" stroke-width="1"/>
<text x="370.8" y="394.59" font-size="8.3" fill="#333333" text-anchor="end">20</text>
<line x1="373.2" y1="362.88" x2="376.5" y2="362.88" stroke="#222222" stroke-width="1"/>
<text x="370.8" y="365.23" font-size="8.3" fill="#333333" text-anchor="end">40</text>
<line x1="373.2" y1="333.52" x2="376.5" y2="333.52" stroke="#222222" stroke-width="1"/>
<text x="370.8" y="335.87" font-size="8.3" fill="#333333" text-anchor="end">60</text>
<line x1="373.2" y1="304.16" x2="376.5" y2="304.16" stroke="#222222" stroke-width="1"/>
<text x="370.8" y="306.51" font-size="8.3" fill="#333333" text-anchor="end">80</text>
<line x1="373.2" y1="274.8" x2="376.5" y2="274.8" stroke="#222222" stroke-width="1"/>
<text x="370.8" y="277.15" font-size="8.3" fill="#333333" text-anchor="end">100</text>
<line x1="376.5" y1="427.5" x2="376.5" y2="430.8" stroke="#222222" stroke-width="1"/>
<text x="376.5" y="439.8" font-size="8.3" fill="#333333" text-anchor="middle">0</text>
<line x1="400.85" y1="427.5" x2="400.85" y2="430.8" stroke="#222222" stroke-width="1"/>
<text x="400.85" y="439.8" font-size="8.3" fill="#333333" text-anchor="middle">5</text>
<line x1="425.2" y1="427.5" x2="425.2" y2="430.8" stroke="#222222" stroke-width="1"/>
<text x="425.2" y="439.8" font-size="8.3" fill="#333333" text-anchor="middle">10</text>
<line x1="449.55" y1="427.5" x2="449.55" y2="430.8" stroke="#222222" stroke-width="1"/>
<text x="449.55" y="439.8" font-size="8.3" fill="#333333" text-anchor="middle">15</text>
<line x1="473.9" y1="427.5" x2="473.9" y2="430.8" stroke="#222222" stroke-width="1"/>
<text x="473.9" y="439.8" font-size="8.3" fill="#333333" text-anchor="middle">20</text>
<text transform="translate(351.6,348.4) rotate(-90)" x="0" y="0" font-size="9.2" fill="#333333" text-anchor="middle" textLength="105.6" lengthAdjust="spacingAndGlyphs">Dominant clonotype percentage</text>
<text x="376.5" y="452.4" font-size="9.2" fill="#333333" textLength="101.6" lengthAdjust="spacingAndGlyphs">Lymphocyte count ×10<tspan dy="-3.6" font-size="7.2">9</tspan><tspan dy="3.6"> cells/L</tspan></text>
<line x1="391.6" y1="269.3" x2="391.6" y2="427.6" stroke="#444" stroke-width="1.25" stroke-dasharray="2.8,2.2"/>
<g fill="#c70a22"><circle cx="402" cy="282" r="1.75"/><circle cx="413.9" cy="282" r="1.75"/><circle cx="417" cy="280.4" r="1.75"/><circle cx="386.7" cy="288.2" r="1.75"/><circle cx="401.6" cy="309.1" r="1.75"/><circle cx="382.6" cy="311.7" r="1.75"/><circle cx="394" cy="323.4" r="1.75"/><circle cx="387.3" cy="334.3" r="1.75"/><circle cx="389.3" cy="332.6" r="1.75"/><circle cx="428.7" cy="350.5" r="1.75"/><circle cx="383.6" cy="376.7" r="1.75"/><circle cx="389.9" cy="380.2" r="1.75"/><circle cx="384.6" cy="391.6" r="1.75"/><circle cx="401.6" cy="392.5" r="1.75"/><circle cx="462.4" cy="282.3" r="1.75"/><circle cx="467.2" cy="280.6" r="1.75"/><circle cx="474.1" cy="282.6" r="1.75"/><circle cx="384.1" cy="412.6" r="1.75"/><circle cx="389.3" cy="415.2" r="1.75"/><circle cx="383.6" cy="417.2" r="1.75"/><circle cx="382.7" cy="418.7" r="1.75"/></g>
<g fill="#0b4c89"><circle cx="379.5" cy="421" r="1.75"/><circle cx="381" cy="420.5" r="1.75"/><circle cx="382.5" cy="421.5" r="1.75"/><circle cx="384" cy="420.8" r="1.75"/><circle cx="385.5" cy="420" r="1.75"/><circle cx="387" cy="421.2" r="1.75"/><circle cx="388.5" cy="420.5" r="1.75"/><circle cx="390" cy="421.3" r="1.75"/><circle cx="391.2" cy="421.8" r="1.75"/><circle cx="380.5" cy="422" r="1.75"/><circle cx="383.5" cy="422" r="1.75"/><circle cx="386.5" cy="422" r="1.75"/></g>
<g fill="#c70a22"><circle cx="385.3" cy="421.5" r="1.75"/><circle cx="389.3" cy="421.8" r="1.75"/></g>
<g fill="#c70a22"><circle cx="483.1" cy="306.5" r="1.75"/></g>
<g fill="#0b4c89"><circle cx="483.1" cy="316.4" r="1.75"/></g>
<text x="488" y="309.1" font-size="7.6" fill="#333333" textLength="22.4" lengthAdjust="spacingAndGlyphs">Patient</text>
<text x="488" y="319" font-size="7.6" fill="#333333" textLength="24.2" lengthAdjust="spacingAndGlyphs">Control</text>
<text x="8.2" y="473.7" font-size="11" fill="#111" font-weight="bold">G</text>
<text x="100.8" y="483.1" font-size="10.4" fill="#333333" textLength="102.3" lengthAdjust="spacingAndGlyphs" text-anchor="middle">CLL requiring treatment</text>
<text x="100.8" y="494.6" font-size="10.4" fill="#333333" textLength="66.9" lengthAdjust="spacingAndGlyphs" text-anchor="middle">vs no treatment</text>
<line x1="41.5" y1="500.4" x2="41.5" y2="674.05" stroke="#222222" stroke-width="1.1"/>
<line x1="40.95" y1="673.5" x2="159.5" y2="673.5" stroke="#222222" stroke-width="1.1"/>
<line x1="38.2" y1="667.2" x2="41.5" y2="667.2" stroke="#222222" stroke-width="1"/>
<text x="34.8" y="669.55" font-size="8.3" fill="#333333" text-anchor="end">0</text>
<line x1="38.2" y1="635.06" x2="41.5" y2="635.06" stroke="#222222" stroke-width="1"/>
<text x="34.8" y="637.41" font-size="8.3" fill="#333333" text-anchor="end">20</text>
<line x1="38.2" y1="602.92" x2="41.5" y2="602.92" stroke="#222222" stroke-width="1"/>
<text x="34.8" y="605.27" font-size="8.3" fill="#333333" text-anchor="end">40</text>
<line x1="38.2" y1="570.78" x2="41.5" y2="570.78" stroke="#222222" stroke-width="1"/>
<text x="34.8" y="573.13" font-size="8.3" fill="#333333" text-anchor="end">60</text>
<line x1="38.2" y1="538.64" x2="41.5" y2="538.64" stroke="#222222" stroke-width="1"/>
<text x="34.8" y="540.99" font-size="8.3" fill="#333333" text-anchor="end">80</text>
<line x1="38.2" y1="506.5" x2="41.5" y2="506.5" stroke="#222222" stroke-width="1"/>
<text x="34.8" y="508.85" font-size="8.3" fill="#333333" text-anchor="end">100</text>
<line x1="50.55" y1="673.5" x2="50.55" y2="676.8" stroke="#222222" stroke-width="1"/>
<text x="50.55" y="685.3" font-size="8.3" fill="#333333" text-anchor="middle">−20</text>
<line x1="76.85" y1="673.5" x2="76.85" y2="676.8" stroke="#222222" stroke-width="1"/>
<text x="76.85" y="685.3" font-size="8.3" fill="#333333" text-anchor="middle">−15</text>
<line x1="103.15" y1="673.5" x2="103.15" y2="676.8" stroke="#222222" stroke-width="1"/>
<text x="103.15" y="685.3" font-size="8.3" fill="#333333" text-anchor="middle">−10</text>
<line x1="129.45" y1="673.5" x2="129.45" y2="676.8" stroke="#222222" stroke-width="1"/>
<text x="129.45" y="685.3" font-size="8.3" fill="#333333" text-anchor="middle">−5</text>
<line x1="155.75" y1="673.5" x2="155.75" y2="676.8" stroke="#222222" stroke-width="1"/>
<text x="155.75" y="685.3" font-size="8.3" fill="#333333" text-anchor="middle">0</text>
<text transform="translate(16.2,587.2) rotate(-90)" x="0" y="0" font-size="9.2" fill="#333333" text-anchor="middle" textLength="102.7" lengthAdjust="spacingAndGlyphs">Dominant clonotype frequency</text>
<text x="63.75" y="698.4" font-size="9.2" fill="#333333" textLength="73.75" lengthAdjust="spacingAndGlyphs">Years before diagnosis</text>
<g fill="#0b4c89"><circle cx="70.8" cy="509.9" r="1.62"/><circle cx="85.8" cy="520.8" r="1.62"/><circle cx="77.4" cy="540.4" r="1.62"/><circle cx="86.5" cy="585.3" r="1.62"/><circle cx="140" cy="530" r="1.62"/><circle cx="103.1" cy="536.2" r="1.62"/><circle cx="101.5" cy="539.5" r="1.62"/><circle cx="117.9" cy="608.7" r="1.62"/><circle cx="92.9" cy="654.4" r="1.62"/><circle cx="59.6" cy="665.4" r="1.62"/><circle cx="64.4" cy="665.4" r="1.62"/><circle cx="65.6" cy="664.6" r="1.62"/><circle cx="81" cy="665.4" r="1.62"/><circle cx="83.8" cy="665.4" r="1.62"/><circle cx="115.6" cy="662.5" r="1.62"/></g>
<g fill="#c70a22"><path d="M91.45 521.43L95.35 521.43L93.4 518.03Z"/><path d="M81.15 536.83L85.05 536.83L83.1 533.43Z"/><path d="M109.55 549.53L113.45 549.53L111.5 546.13Z"/><path d="M151.85 539.73L155.75 539.73L153.8 536.33Z"/><path d="M150.85 552.33L154.75 552.33L152.8 548.93Z"/><path d="M88.45 629.63L92.35 629.63L90.4 626.23Z"/><path d="M119.75 636.33L123.65 636.33L121.7 632.93Z"/><path d="M69.75 646.73L73.65 646.73L71.7 643.33Z"/><path d="M58.85 659.43L62.75 659.43L60.8 656.03Z"/><path d="M95.35 663.63L99.25 663.63L97.3 660.23Z"/><path d="M95.35 666.13L99.25 666.13L97.3 662.73Z"/><path d="M99.25 665.93L103.15 665.93L101.2 662.53Z"/><path d="M102.05 665.93L105.95 665.93L104 662.53Z"/><path d="M104.95 666.53L108.85 666.53L106.9 663.13Z"/><path d="M109.25 665.53L113.15 665.53L111.2 662.13Z"/><path d="M113.05 666.93L116.95 666.93L115 663.53Z"/></g>
<g fill="#c70a22"><path d="M169.05 530.23L172.95 530.23L171 526.83Z"/></g>
<g fill="#0b4c89"><circle cx="171" cy="540.8" r="1.62"/></g>
<text x="176.7" y="531.4" font-size="7.6" fill="#333333" textLength="33.7" lengthAdjust="spacingAndGlyphs">Treatment</text>
<text x="176.7" y="543.4" font-size="7.6" fill="#333333" textLength="44.1" lengthAdjust="spacingAndGlyphs">No treatment</text>
<text x="259.4" y="474.1" font-size="11" fill="#111" font-weight="bold">H</text>
<text x="349.2" y="483.5" font-size="10.4" fill="#333333" textLength="75.4" lengthAdjust="spacingAndGlyphs" text-anchor="middle">Transformation to</text>
<text x="349" y="494.4" font-size="10.4" fill="#333333" textLength="65.4" lengthAdjust="spacingAndGlyphs" text-anchor="middle">aggressive BCL</text>
<line x1="292.5" y1="500.5" x2="292.5" y2="674.05" stroke="#222222" stroke-width="1.1"/>
<line x1="291.95" y1="673.5" x2="405.3" y2="673.5" stroke="#222222" stroke-width="1.1"/>
<line x1="289.2" y1="667.3" x2="292.5" y2="667.3" stroke="#222222" stroke-width="1"/>
<text x="285.7" y="669.65" font-size="8.3" fill="#333333" text-anchor="end">0</text>
<line x1="289.2" y1="634.48" x2="292.5" y2="634.48" stroke="#222222" stroke-width="1"/>
<text x="285.7" y="636.83" font-size="8.3" fill="#333333" text-anchor="end">20</text>
<line x1="289.2" y1="601.66" x2="292.5" y2="601.66" stroke="#222222" stroke-width="1"/>
<text x="285.7" y="604.01" font-size="8.3" fill="#333333" text-anchor="end">40</text>
<line x1="289.2" y1="568.84" x2="292.5" y2="568.84" stroke="#222222" stroke-width="1"/>
<text x="285.7" y="571.19" font-size="8.3" fill="#333333" text-anchor="end">60</text>
<line x1="289.2" y1="536.02" x2="292.5" y2="536.02" stroke="#222222" stroke-width="1"/>
<text x="285.7" y="538.37" font-size="8.3" fill="#333333" text-anchor="end">80</text>
<line x1="289.2" y1="503.2" x2="292.5" y2="503.2" stroke="#222222" stroke-width="1"/>
<text x="285.7" y="505.55" font-size="8.3" fill="#333333" text-anchor="end">100</text>
<line x1="301.2" y1="673.5" x2="301.2" y2="676.8" stroke="#222222" stroke-width="1"/>
<text x="301.2" y="685.3" font-size="8.3" fill="#333333" text-anchor="middle">−20</text>
<line x1="326.12" y1="673.5" x2="326.12" y2="676.8" stroke="#222222" stroke-width="1"/>
<text x="326.12" y="685.3" font-size="8.3" fill="#333333" text-anchor="middle">−15</text>
<line x1="351.05" y1="673.5" x2="351.05" y2="676.8" stroke="#222222" stroke-width="1"/>
<text x="351.05" y="685.3" font-size="8.3" fill="#333333" text-anchor="middle">−10</text>
<line x1="375.97" y1="673.5" x2="375.97" y2="676.8" stroke="#222222" stroke-width="1"/>
<text x="375.97" y="685.3" font-size="8.3" fill="#333333" text-anchor="middle">−5</text>
<line x1="400.9" y1="673.5" x2="400.9" y2="676.8" stroke="#222222" stroke-width="1"/>
<text x="400.9" y="685.3" font-size="8.3" fill="#333333" text-anchor="middle">0</text>
<text transform="translate(266.5,586.7) rotate(-90)" x="0" y="0" font-size="9.2" fill="#333333" text-anchor="middle" textLength="102.8" lengthAdjust="spacingAndGlyphs">Dominant clonotype frequency</text>
<text x="311.8" y="698.8" font-size="9.2" fill="#333333" textLength="73.9" lengthAdjust="spacingAndGlyphs">Years before diagnosis</text>
<g fill="#0b4c89"><rect x="318.9" y="508.5" width="3" height="3"/><rect x="333.5" y="519.5" width="3" height="3"/><rect x="340.2" y="517.2" width="3" height="3"/><rect x="330.6" y="534.5" width="3" height="3"/><rect x="325.2" y="539.3" width="3" height="3"/><rect x="347.7" y="536.2" width="3" height="3"/><rect x="349.3" y="535.2" width="3" height="3"/><rect x="333.9" y="584.8" width="3" height="3"/><rect x="384.8" y="529" width="3" height="3"/><rect x="398" y="537.3" width="3" height="3"/><rect x="394.8" y="549" width="3" height="3"/><rect x="364.1" y="608.7" width="3" height="3"/><rect x="367.3" y="635.2" width="3" height="3"/><rect x="339.7" y="655.4" width="3" height="3"/><rect x="308.3" y="666.4" width="3" height="3"/><rect x="312.7" y="666.4" width="3" height="3"/><rect x="314.1" y="665.4" width="3" height="3"/><rect x="328.9" y="666.4" width="3" height="3"/><rect x="330.8" y="666.4" width="3" height="3"/><rect x="343.9" y="663.5" width="3" height="3"/><rect x="346.8" y="666.4" width="3" height="3"/><rect x="357.3" y="663.1" width="3" height="3"/><rect x="360.8" y="663.1" width="3" height="3"/><rect x="361.2" y="665" width="3" height="3"/></g>
<g fill="#c70a22"><path d="M356.85 550.03L360.75 550.03L358.8 546.63Z"/><path d="M336.75 631.53L340.65 631.53L338.7 628.13Z"/><path d="M319.35 648.83L323.25 648.83L321.3 645.43Z"/><path d="M352.65 669.43L356.55 669.43L354.6 666.03Z"/></g>
<g fill="#c70a22"><path d="M417.55 530.33L421.45 530.33L419.5 526.93Z"/></g>
<g fill="#0b4c89"><rect x="418" y="539" width="3" height="3"/></g>
<text x="425" y="531.6" font-size="7.6" fill="#333333" textLength="49.5" lengthAdjust="spacingAndGlyphs">Transformation</text>
<text x="425" y="543.4" font-size="7.6" fill="#333333" textLength="60.5" lengthAdjust="spacingAndGlyphs">No transformation</text>
<rect x="0.65" y="0.65" width="518.7" height="706.7" fill="none" stroke="#111" stroke-width="1.3"/>
</svg>
</body></html>
